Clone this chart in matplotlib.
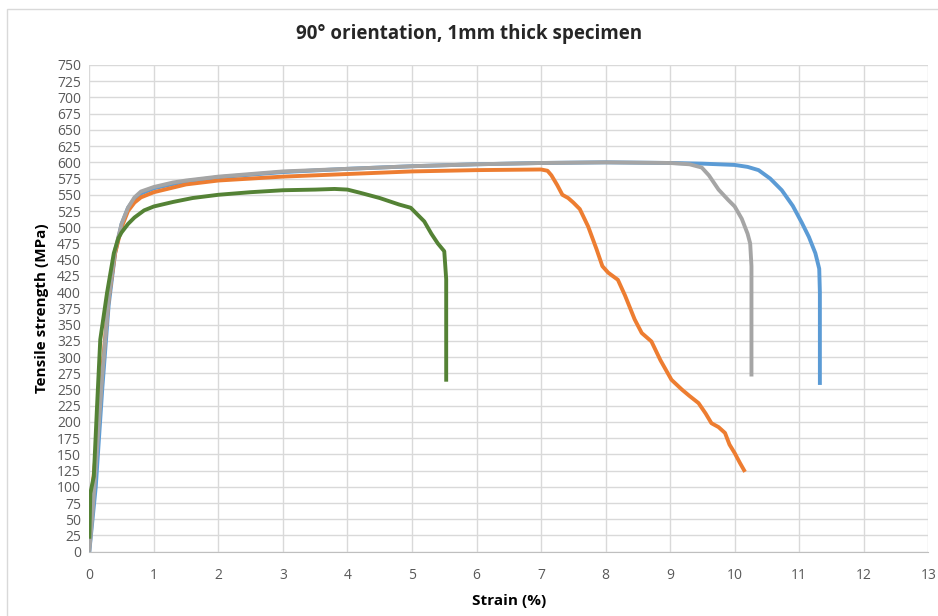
import matplotlib.pyplot as plt
from matplotlib.patches import Rectangle

# Specimen curves, strain (%) vs tensile strength (MPa)
blue_strain = [0, 0.1, 0.2, 0.3, 0.4, 0.5, 0.6, 0.7, 0.8, 1.0, 1.5, 2, 3, 4, 5, 6, 7, 8,
               9, 9.5, 10.0, 10.2, 10.37, 10.55, 10.73, 10.9, 11.04, 11.15, 11.25, 11.31,
               11.32, 11.32]
blue_stress = [0, 100, 250, 380, 460, 505, 530, 544, 552, 560, 571, 577, 585, 590, 594,
               597, 599, 600, 599, 598, 596, 593, 588, 575, 557, 533, 507, 485, 460, 436,
               400, 257]

orange_strain = [0, 0.05, 0.1, 0.2, 0.3, 0.4, 0.5, 0.6, 0.7, 0.8, 1.0, 1.5, 2, 3, 4, 5,
                 6, 7, 7.1, 7.16, 7.25, 7.33, 7.42, 7.5, 7.6, 7.73, 7.86, 7.95, 8.04,
                 8.19, 8.3, 8.45, 8.56, 8.71, 8.85, 9.02, 9.18, 9.3, 9.44, 9.55, 9.64,
                 9.75, 9.85, 9.92, 10.0, 10.08, 10.16]
orange_stress = [60, 100, 150, 280, 390, 460, 500, 525, 538, 546, 554, 566, 572, 578,
                 582, 586, 588, 589, 587, 580, 565, 550, 545, 538, 528, 501, 466, 440,
                 430, 419, 395, 358, 337, 324, 295, 265, 250, 240, 229, 213, 198, 192,
                 183, 165, 152, 137, 123]

gray_strain = [0, 0.05, 0.1, 0.2, 0.3, 0.4, 0.5, 0.6, 0.7, 0.8, 1.0, 1.3, 1.5, 2, 3, 4,
               5, 6, 7, 8, 9, 9.3, 9.49, 9.6, 9.75, 9.9, 10.0, 10.11, 10.2, 10.24,
               10.26, 10.26]
gray_stress = [0, 60, 130, 270, 390, 465, 505, 530, 546, 555, 562, 569, 572, 578, 586,
               590, 594, 597, 599, 600, 599, 597, 592, 580, 558, 542, 532, 513, 490,
               475, 440, 270]

green_strain = [0, 0.016, 0.07, 0.12, 0.17, 0.275, 0.38, 0.45, 0.5, 0.6, 0.7, 0.85,
                1.0, 1.3, 1.6, 2, 2.5, 3, 3.5, 3.8, 4.0, 4.2, 4.5, 4.8, 4.98, 5.1, 5.19,
                5.3, 5.4, 5.5, 5.53, 5.53]
green_stress = [20, 90, 116, 224, 327, 399, 460, 483, 492, 505, 515, 526, 532, 539, 545,
                550, 554, 557, 558, 559, 558, 553, 545, 535, 530, 518, 509, 490, 475,
                463, 420, 262]

x_ticks = list(range(0, 14))
y_ticks = list(range(0, 751, 25))

plt.rcParams['font.family'] = ['Open Sans', 'DejaVu Sans']

fig = plt.figure(figsize=(9.38, 6.16), dpi=100)
fig.patches.append(Rectangle((7 / 938, -0.1), 1.2, 1 - 9 / 616 + 0.1,
                             transform=fig.transFigure, fill=False,
                             edgecolor='#D9D9D9', linewidth=1))
ax = fig.add_axes([89.3 / 938, 1 - 551.7 / 616, (928.3 - 89.3) / 938, (551.7 - 65) / 616])

line_width = 2.8
ax.plot(blue_strain, blue_stress, color='#5B9BD5', lw=line_width, solid_capstyle='butt')
ax.plot(orange_strain, orange_stress, color='#ED7D31', lw=line_width, solid_capstyle='butt')
ax.plot(gray_strain, gray_stress, color='#A5A5A5', lw=line_width, solid_capstyle='butt')
ax.plot(green_strain, green_stress, color='#548235', lw=line_width, solid_capstyle='butt')

ax.set_xlim(0, 13)
ax.set_ylim(0, 750)
ax.set_xticks(x_ticks)
ax.set_yticks(y_ticks)
ax.grid(True, color='#D9D9D9', lw=1)
ax.set_axisbelow(True)
for side in ['top', 'right', 'left']:
    ax.spines[side].set_visible(False)
ax.spines['bottom'].set_color('#BFBFBF')
ax.tick_params(length=0, labelsize=10, colors='#595959', pad=6)
ax.tick_params(axis='x', pad=12)

fig.text(0.5, 1 - 34 / 616, '90° orientation, 1mm thick specimen', fontsize=13.5,
         fontweight='bold', color='#262626', ha='center', va='center')
ax.set_xlabel('Strain (%)', fontsize=11, fontweight='bold', color='#000000', labelpad=8)
ax.set_ylabel('Tensile strength (MPa)', fontsize=11, fontweight='bold', color='#000000',
              labelpad=6)

fig.savefig('out.png', dpi=100)
